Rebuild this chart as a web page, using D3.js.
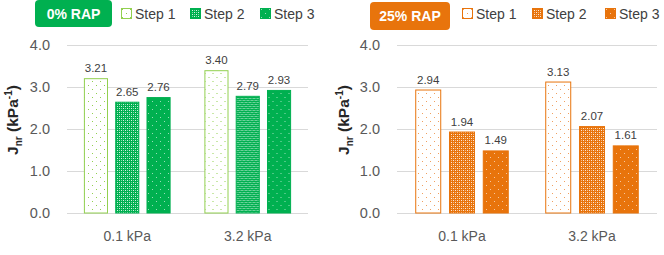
<!DOCTYPE html>
<html>
<head>
<meta charset="utf-8">
<script src="https://cdn.jsdelivr.net/npm/d3@7"></script>
<style>
  body { margin: 0; background: #fff; }
  text { font-family: "Liberation Sans", Arial, sans-serif; }
</style>
</head>
<body>
<svg id="chart" width="664" height="255"></svg>
<script>
'use strict';

// data
const pressures = ["0.1 kPa", "3.2 kPa"];
const steps = ["Step 1", "Step 2", "Step 3"];
const rap0 = [[3.21, 2.65, 2.76], [3.40, 2.79, 2.93]];
const rap25 = [[2.94, 1.94, 1.49], [3.13, 2.07, 1.61]];
const yTicks = [0, 1, 2, 3, 4];

const svg = d3.select("#chart");
const defs = svg.append("defs");

function makePatterns(id, light, dark) {
	// step 1: white with sparse light dots
	let p1 = defs.append("pattern").attr("id", id + "-s1")
		.attr("patternUnits", "userSpaceOnUse").attr("width", 8).attr("height", 8);
	p1.append("rect").attr("width", 8).attr("height", 8).attr("fill", "#fff");
	p1.append("rect").attr("x", 1).attr("y", 1).attr("width", 1).attr("height", 1).attr("fill", light);
	p1.append("rect").attr("x", 5).attr("y", 5).attr("width", 1).attr("height", 1).attr("fill", light);

	// step 2: mesh / checker, lighter than the solid colour
	let p2 = defs.append("pattern").attr("id", id + "-s2")
		.attr("patternUnits", "userSpaceOnUse").attr("width", 4).attr("height", 4);
	p2.append("rect").attr("width", 4).attr("height", 4).attr("fill", dark);
	p2.append("rect").attr("x", 0).attr("y", 0).attr("width", 1).attr("height", 1).attr("fill", "#fff").attr("opacity", 0.85);
	p2.append("rect").attr("x", 2).attr("y", 2).attr("width", 1).attr("height", 1).attr("fill", "#fff").attr("opacity", 0.85);
	p2.append("rect").attr("x", 2).attr("y", 0).attr("width", 1).attr("height", 1).attr("fill", "#fff").attr("opacity", 0.5);
	p2.append("rect").attr("x", 0).attr("y", 2).attr("width", 1).attr("height", 1).attr("fill", "#fff").attr("opacity", 0.5);

	// step 3: solid with sparse white dots
	let p3 = defs.append("pattern").attr("id", id + "-s3")
		.attr("patternUnits", "userSpaceOnUse").attr("width", 8).attr("height", 8);
	p3.append("rect").attr("width", 8).attr("height", 8).attr("fill", dark);
	p3.append("rect").attr("x", 1).attr("y", 1).attr("width", 1).attr("height", 1).attr("fill", "#fff").attr("opacity", 0.6);
	p3.append("rect").attr("x", 5).attr("y", 5).attr("width", 1).attr("height", 1).attr("fill", "#fff").attr("opacity", 0.6);
}

makePatterns("g", "#92d050", "#00b050");
makePatterns("o", "#f0a060", "#e8740c");

function drawPanel(cfg) {
	let g = svg.append("g");

	let y = d3.scaleLinear().domain([0, 4]).range([213, 45]);
	let x0 = d3.scaleBand().domain(pressures).range([cfg.left, cfg.right]).padding(0);
	let x1 = d3.scaleBand().domain(steps).range([0, x0.bandwidth()])
		.paddingInner(0.23).paddingOuter(0.54);

	// gridlines
	g.selectAll(".grid")
		.data(yTicks)
		.enter().append("line")
		.attr("x1", cfg.left).attr("x2", cfg.right)
		.attr("y1", d => y(d) + 0.5).attr("y2", d => y(d) + 0.5)
		.attr("stroke", "#d9d9d9").attr("stroke-width", 1);

	// y tick labels
	g.selectAll(".ytick")
		.data(yTicks)
		.enter().append("text")
		.attr("x", cfg.left - 17)
		.attr("y", d => y(d) + 5)
		.attr("text-anchor", "end")
		.attr("font-size", 14.5)
		.attr("fill", "#595959")
		.text(d => d.toFixed(1));

	// y title
	let t = g.append("text")
		.attr("transform", "translate(" + cfg.titleX + ",120) rotate(-90)")
		.attr("text-anchor", "middle")
		.attr("font-size", 15.5)
		.attr("font-weight", "bold")
		.attr("fill", "#262626");
	t.append("tspan").text("J");
	t.append("tspan").attr("font-size", 10).attr("dy", 4).text("nr");
	t.append("tspan").attr("dy", -4).text(" (kPa");
	t.append("tspan").attr("font-size", 10).attr("dy", -6).text("-1");
	t.append("tspan").attr("dy", 6).text(")");

	// bars
	let groups = g.selectAll(".grp")
		.data(cfg.values)
		.enter().append("g")
		.attr("transform", (d, i) => "translate(" + x0(pressures[i]) + ",0)");

	groups.selectAll("rect")
		.data(d => d.map((v, j) => ({ step: steps[j], value: v, j: j })))
		.enter().append("rect")
		.attr("x", d => x1(d.step) + 0.5)
		.attr("y", d => y(d.value) + 0.5)
		.attr("width", x1.bandwidth() - 1)
		.attr("height", d => y(0) - y(d.value) - 0.5)
		.attr("fill", d => "url(#" + cfg.id + "-s" + (d.j + 1) + ")")
		.attr("stroke", d => d.j == 0 ? cfg.border1 : cfg.dark)
		.attr("stroke-width", 1);

	groups.selectAll(".val")
		.data(d => d.map((v, j) => ({ step: steps[j], value: v })))
		.enter().append("text")
		.attr("x", d => x1(d.step) + x1.bandwidth() / 2)
		.attr("y", d => y(d.value) - 6)
		.attr("text-anchor", "middle")
		.attr("font-size", 11.5)
		.attr("fill", "#404040")
		.text(d => d.value.toFixed(2));

	// x labels
	g.selectAll(".xlab")
		.data(pressures)
		.enter().append("text")
		.attr("x", d => x0(d) + x0.bandwidth() / 2)
		.attr("y", 241)
		.attr("text-anchor", "middle")
		.attr("font-size", 14)
		.attr("fill", "#595959")
		.text(d => d);

	// header badge
	g.append("rect")
		.attr("x", cfg.badge[0]).attr("y", cfg.badge[1])
		.attr("width", cfg.badge[2]).attr("height", cfg.badge[3])
		.attr("rx", 4)
		.attr("fill", cfg.dark);
	g.append("text")
		.attr("x", cfg.badge[0] + cfg.badge[2] / 2)
		.attr("y", cfg.badge[1] + cfg.badge[3] / 2 + 5)
		.attr("text-anchor", "middle")
		.attr("font-size", 14)
		.attr("font-weight", "bold")
		.attr("fill", "#fff")
		.text(cfg.title);

	// legend
	let leg = g.selectAll(".leg")
		.data(steps)
		.enter().append("g")
		.attr("transform", (d, i) => "translate(" + cfg.legendX[i] + ",8)");
	leg.append("rect")
		.attr("x", 0.5).attr("y", 0.5)
		.attr("width", 10).attr("height", 10)
		.attr("fill", (d, i) => "url(#" + cfg.id + "-s" + (i + 1) + ")")
		.attr("stroke", (d, i) => i == 0 ? cfg.border1 : cfg.dark);
	leg.append("text")
		.attr("x", 14).attr("y", 10.5)
		.attr("font-size", 14)
		.attr("fill", "#404040")
		.text(d => d);
}

drawPanel({
	id: "g", title: "0% RAP", values: rap0,
	left: 67, right: 308, titleX: 18,
	border1: "#92d050", dark: "#00b050",
	badge: [35, 0, 77, 27],
	legendX: [121, 190, 260]
});

drawPanel({
	id: "o", title: "25% RAP", values: rap25,
	left: 397, right: 657, titleX: 349,
	border1: "#e8740c", dark: "#e8740c",
	badge: [370, 2, 80, 28],
	legendX: [462, 532, 605]
});
</script>
</body>
</html>
